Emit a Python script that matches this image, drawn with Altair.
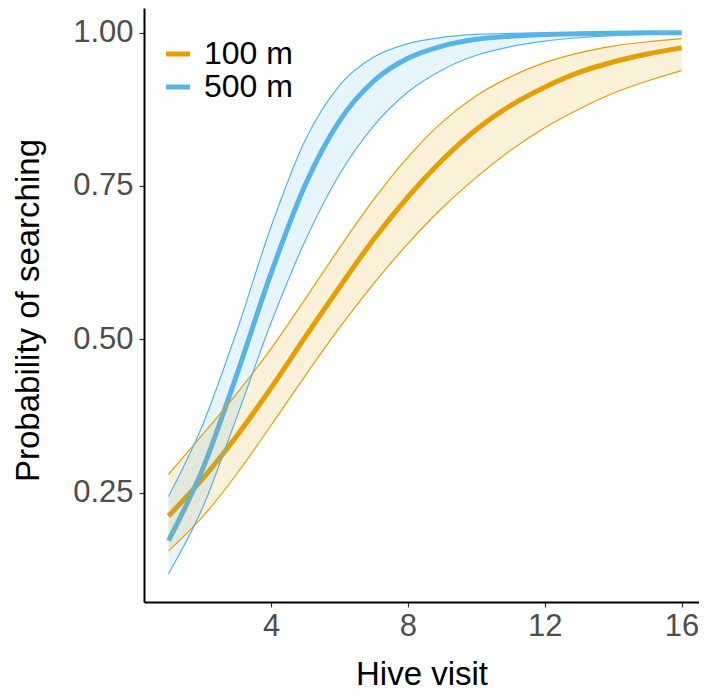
import altair as alt
import pandas as pd

# ---- data ----
visits = [1, 2, 3, 4, 5, 6, 7, 8, 9, 10, 11, 12, 13, 14, 15, 16]
groups = ["100 m", "500 m"]

orange_mean = [0.212, 0.273, 0.343, 0.421, 0.504, 0.585, 0.663, 0.732,
               0.792, 0.842, 0.881, 0.911, 0.935, 0.952, 0.965, 0.975]
orange_hi = [0.280, 0.345, 0.412, 0.485, 0.566, 0.649, 0.728, 0.797,
             0.854, 0.897, 0.928, 0.951, 0.967, 0.978, 0.985, 0.990]
orange_lo = [0.155, 0.211, 0.281, 0.360, 0.441, 0.519, 0.591, 0.656,
             0.714, 0.764, 0.808, 0.845, 0.875, 0.901, 0.921, 0.938]

blue_mean = [0.172, 0.289, 0.443, 0.608, 0.752, 0.856, 0.921, 0.958,
             0.978, 0.989, 0.994, 0.997, 0.998, 0.999, 0.9996, 0.9998]
blue_hi = [0.244, 0.361, 0.514, 0.684, 0.825, 0.914, 0.960, 0.982,
           0.992, 0.997, 0.9985, 0.9994, 0.9997, 0.9999, 0.9999, 1.0]
blue_lo = [0.118, 0.226, 0.374, 0.527, 0.661, 0.769, 0.848, 0.903,
           0.939, 0.963, 0.977, 0.986, 0.9915, 0.995, 0.997, 0.998]

colors = ["#E69F00", "#56B4E9"]

rows = []
for g, m, lo, hi in [(groups[0], orange_mean, orange_lo, orange_hi),
                     (groups[1], blue_mean, blue_lo, blue_hi)]:
    for x, a, b, c in zip(visits, m, lo, hi):
        rows.append({"visit": x, "group": g, "mean": a, "lo": b, "hi": c})
df = pd.DataFrame(rows)

FONT = "Liberation Sans"

xscale = alt.Scale(domain=[0.284, 16.51], nice=False, zero=False)
yscale = alt.Scale(domain=[0.072, 1.040], nice=False, zero=False)

x_enc = alt.X("visit:Q", scale=xscale,
              axis=alt.Axis(values=[4, 8, 12, 16], title="Hive visit",
                            titleY=82, titleBaseline="alphabetic",
                            labelPadding=4))
y_axis = alt.Axis(values=[0.25, 0.5, 0.75, 1.0], format=".2f",
                  title="Probability of searching",
                  titleX=-106, titleY=302, titleBaseline="alphabetic",
                  labelPadding=6)

base = alt.Chart(df)

mean_lines = base.mark_line(strokeWidth=5, interpolate="monotone").encode(
    x=x_enc,
    y=alt.Y("mean:Q", scale=yscale, axis=y_axis),
    color=alt.Color("group:N",
                    scale=alt.Scale(domain=groups, range=colors),
                    legend=alt.Legend(title=None, orient="none",
                                      legendX=18, legendY=30,
                                      symbolType="stroke",
                                      symbolStrokeWidth=5,
                                      symbolSize=576,
                                      labelFontSize=32,
                                      labelFont=FONT,
                                      labelColor="#000000",
                                      labelOffset=10,
                                      rowPadding=1,
                                      padding=0)),
    detail="group:N",
)

ribbons = base.mark_area(opacity=0.15, interpolate="monotone").encode(
    x="visit:Q",
    y=alt.Y("lo:Q"),
    y2="hi:Q",
    fill=alt.Fill("group:N",
                  scale=alt.Scale(domain=groups, range=colors),
                  legend=None),
    detail="group:N",
)

upper = base.mark_line(strokeWidth=1.2, interpolate="monotone").encode(
    x="visit:Q",
    y="hi:Q",
    stroke=alt.Stroke("group:N",
                      scale=alt.Scale(domain=groups, range=colors),
                      legend=None),
    detail="group:N",
)

lower = base.mark_line(strokeWidth=1.2, interpolate="monotone").encode(
    x="visit:Q",
    y="lo:Q",
    stroke=alt.Stroke("group:N",
                      scale=alt.Scale(domain=groups, range=colors),
                      legend=None),
    detail="group:N",
)

chart = alt.layer(mean_lines, ribbons, upper, lower).properties(
    width=555,
    height=594,
    autosize=alt.AutoSizeParams(type="none"),
    padding={"left": 136, "top": 0, "right": 0, "bottom": 88},
    background="white",
).configure_view(
    stroke=None
).configure_axis(
    grid=False,
    domainColor="#000000",
    domainWidth=2,
    tickColor="#333333",
    tickSize=5,
    tickWidth=1.2,
    labelFont=FONT,
    labelFontSize=31,
    labelColor="#4D4D4D",
    titleFont=FONT,
    titleFontSize=33,
    titleColor="#000000",
    titleFontWeight="normal",
)

chart.save("out.html", embed_options={"renderer": "svg", "actions": False})
